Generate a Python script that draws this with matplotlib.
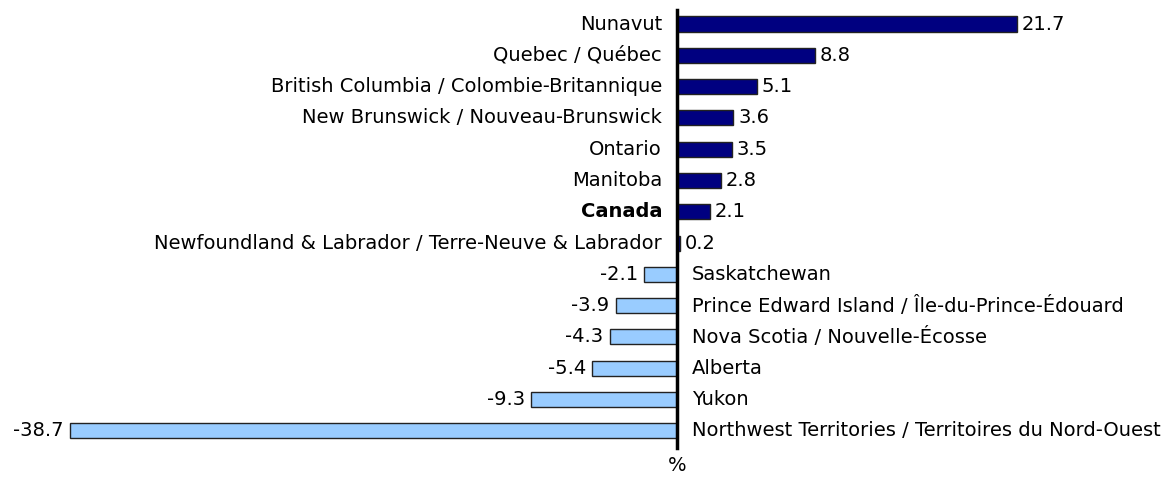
import numpy as np
import matplotlib
matplotlib.use("Agg")
import matplotlib.pyplot as plt

# Data (percent change), top to bottom
regions = [
    "Nunavut",
    "Quebec / Québec",
    "British Columbia / Colombie-Britannique",
    "New Brunswick / Nouveau-Brunswick",
    "Ontario",
    "Manitoba",
    "Canada",
    "Newfoundland & Labrador / Terre-Neuve & Labrador",
    "Saskatchewan",
    "Prince Edward Island / Île-du-Prince-Édouard",
    "Nova Scotia / Nouvelle-Écosse",
    "Alberta",
    "Yukon",
    "Northwest Territories / Territoires du Nord-Ouest",
]
values = [21.7, 8.8, 5.1, 3.6, 3.5, 2.8, 2.1, 0.2, -2.1, -3.9, -4.3, -5.4, -9.3, -38.7]

pos_color = "#000080"
neg_color = "#99CCFF"

plt.rcParams["font.family"] = ["DejaVu Sans"]

fig = plt.figure(figsize=(11.74, 4.94), dpi=100)
ax = fig.add_axes([0, 0, 1, 1])

y = np.arange(len(values))
colors = [pos_color if v >= 0 else neg_color for v in values]
ax.barh(y, values, height=0.48, color=colors, edgecolor="#222222", linewidth=1.0, zorder=2)

# zero line
ax.plot([0, 0], [-0.45, 13.55], color="black", linewidth=2.5, zorder=3)

fs = 14
for i, (name, v) in enumerate(zip(regions, values)):
    weight = "bold" if name == "Canada" else "normal"
    if v >= 0:
        ax.text(-0.95, i, name, ha="right", va="center", fontsize=fs, fontweight=weight)
        ax.text(v + 0.3, i, f"{v:.1f}", ha="left", va="center", fontsize=fs)
    else:
        ax.text(0.95, i, name, ha="left", va="center", fontsize=fs, fontweight=weight)
        ax.text(v - 0.4, i, f"{v:.1f}", ha="right", va="center", fontsize=fs)

ax.text(0, 14.1, "%", ha="center", va="center", fontsize=fs)

ax.set_xlim(-43.18, 31.7)
ax.set_ylim(15.02, -0.767)
ax.axis("off")

fig.savefig("out.png", dpi=100, facecolor="white")
